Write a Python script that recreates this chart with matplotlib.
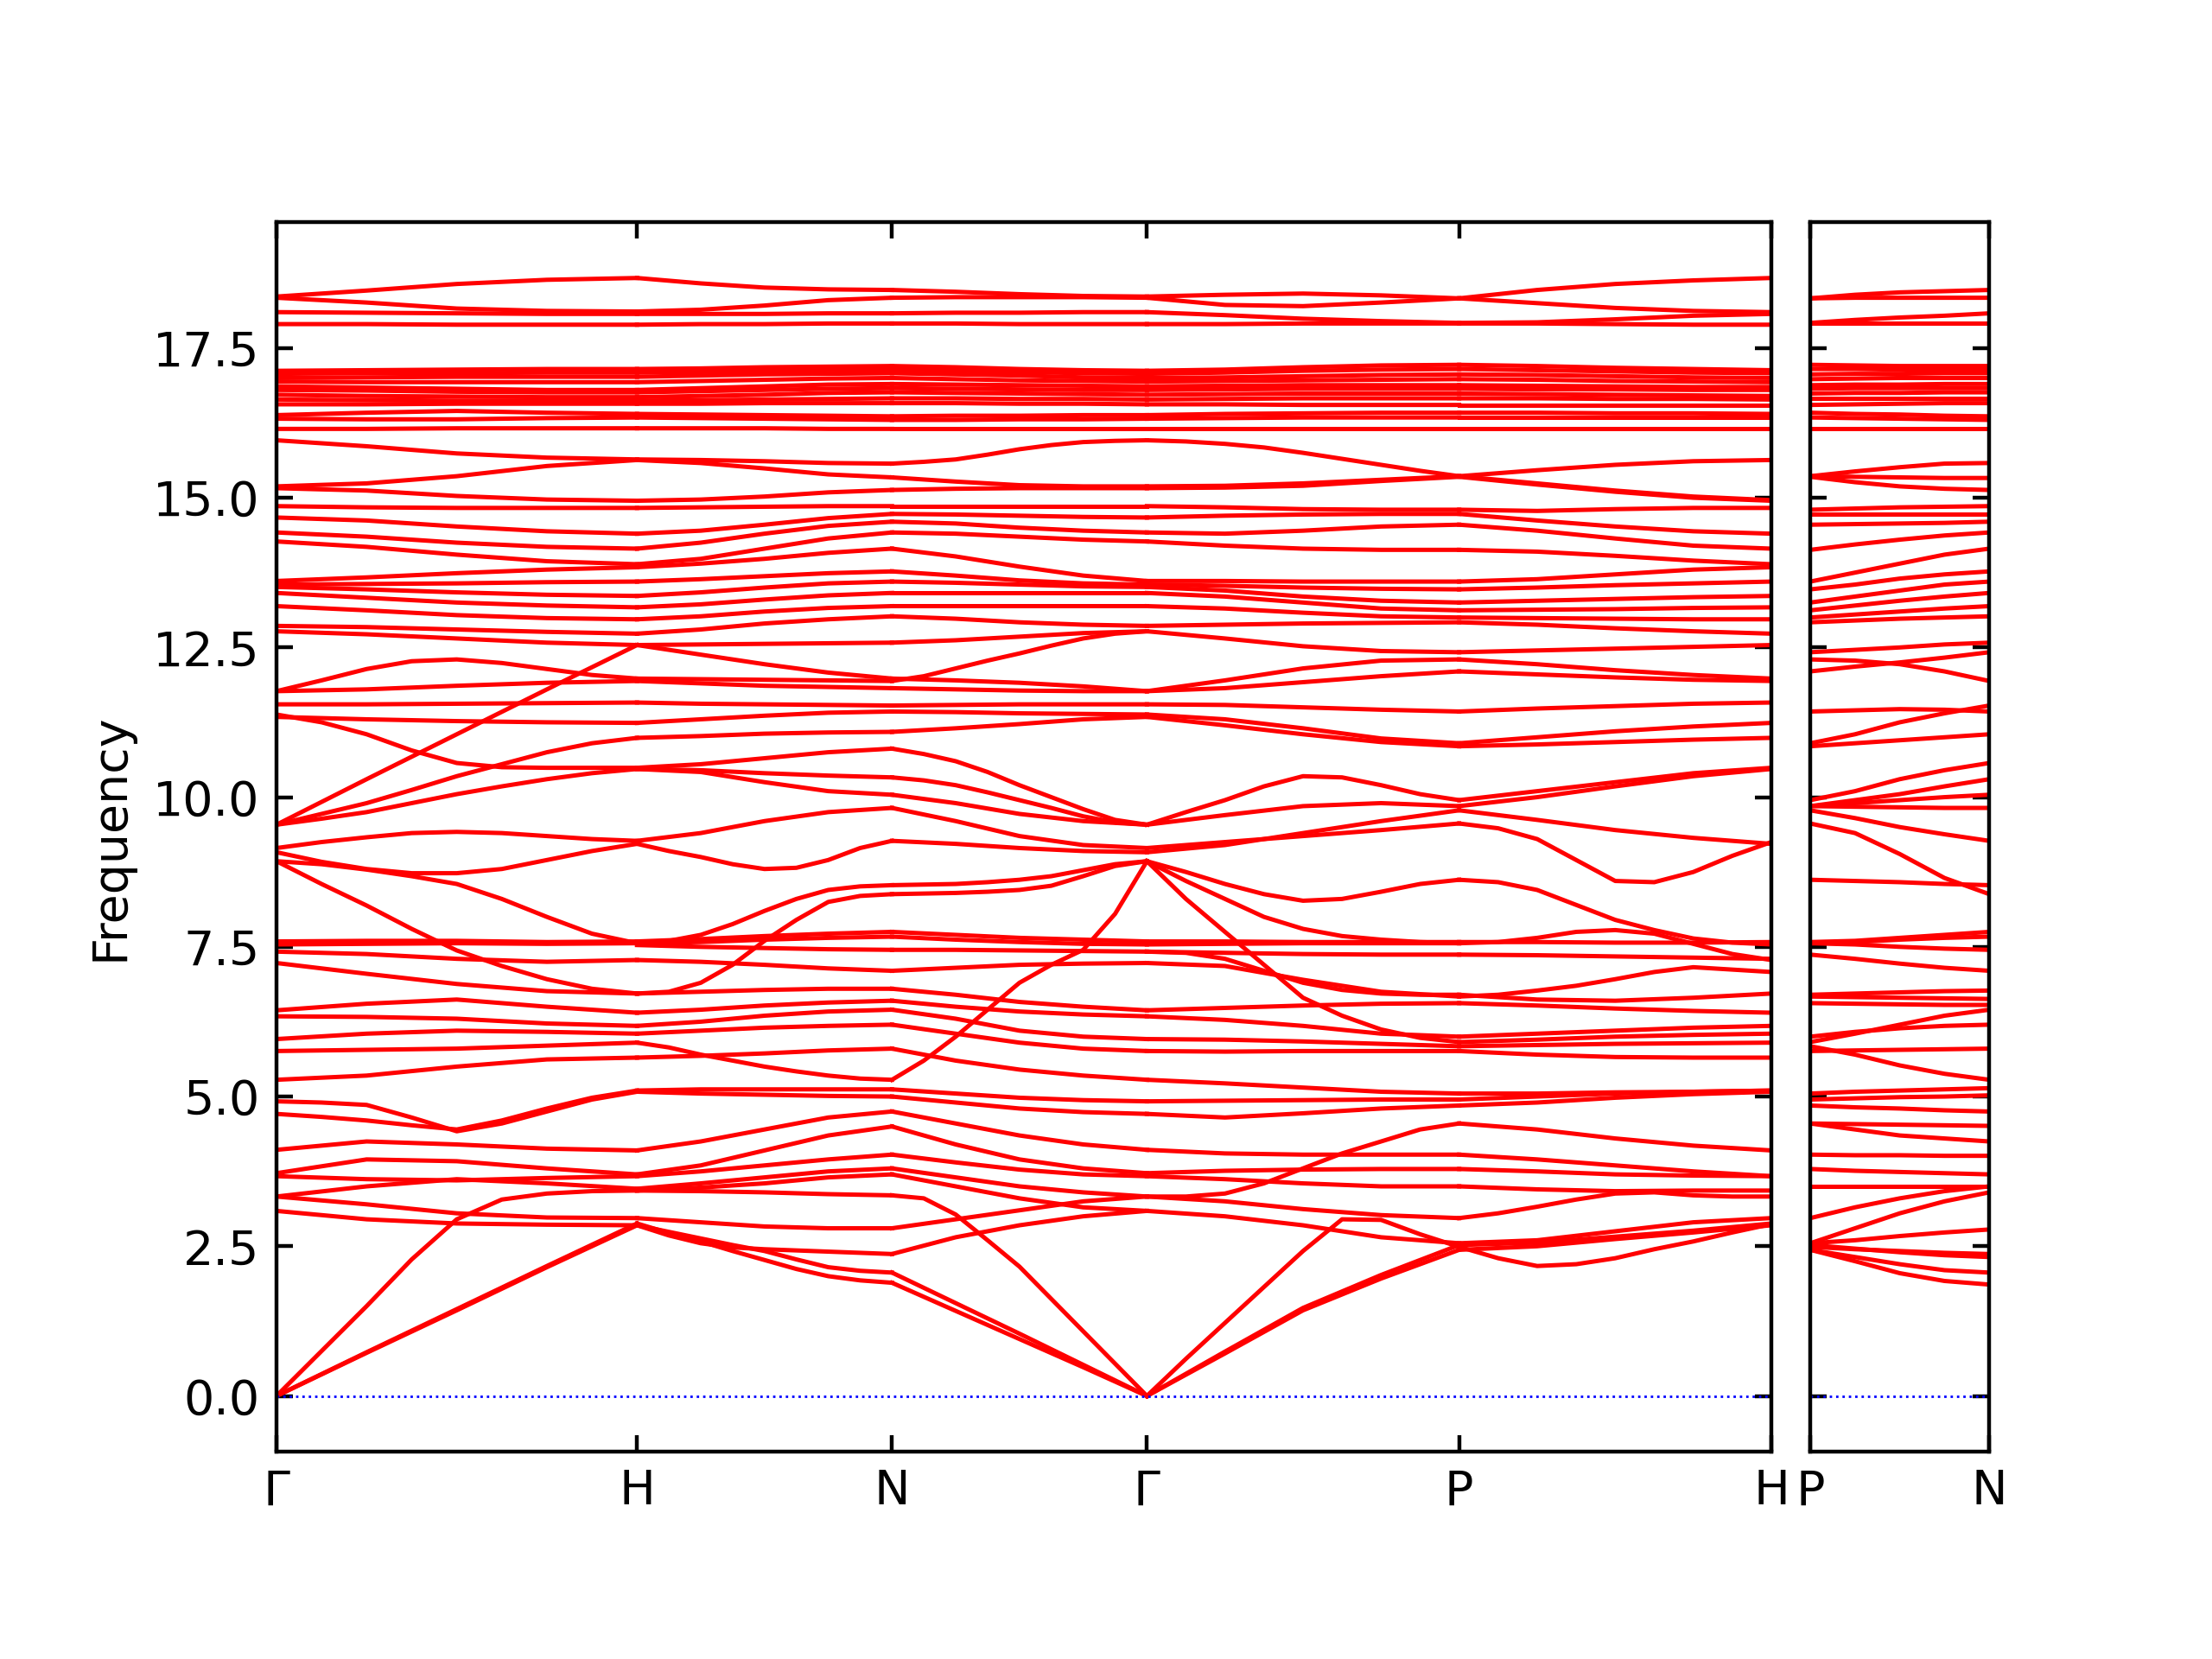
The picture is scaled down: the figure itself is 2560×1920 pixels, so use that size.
import numpy as np
import matplotlib
matplotlib.use("Agg")
import matplotlib.pyplot as plt

# bcc path, segment lengths in units of 2*pi/a
left_labels = ["Γ", "H", "N", "Γ", "P", "H"]
left_lengths = [1.0, 0.7071, 0.7071, 0.8660, 0.8660]
right_labels = ["P", "N"]
right_lengths = [0.5]

# band frequencies read at equally spaced points along each segment
# (5 points for flat bands, 9 points for the strongly curved ones)
gamma_h = [
    [18.36, 18.46, 18.57, 18.64, 18.67], [18.34, 18.26, 18.16, 18.12, 18.11],
    [18.10, 18.09, 18.08, 18.07, 18.07], [17.90, 17.90, 17.89, 17.89, 17.89],
    [17.12, 17.13, 17.14, 17.15, 17.15], [17.07, 17.08, 17.08, 17.09, 17.09],
    [17.00, 17.01, 17.02, 17.02, 17.02], [16.94, 16.93, 16.93, 16.93, 16.93],
    [16.86, 16.84, 16.82, 16.80, 16.80], [16.80, 16.79, 16.77, 16.76, 16.76],
    [16.72, 16.70, 16.69, 16.68, 16.68], [16.64, 16.63, 16.62, 16.62, 16.62],
    [16.56, 16.56, 16.57, 16.57, 16.57], [16.38, 16.42, 16.45, 16.42, 16.40],
    [16.32, 16.31, 16.31, 16.33, 16.34], [16.15, 16.15, 16.16, 16.16, 16.16],
    [15.96, 15.86, 15.74, 15.67, 15.64], [15.19, 15.24, 15.36, 15.53, 15.63],
    [15.16, 15.12, 15.03, 14.97, 14.95], [14.86, 14.84, 14.83, 14.83, 14.83],
    [14.67, 14.62, 14.52, 14.44, 14.40], [14.42, 14.35, 14.25, 14.18, 14.15],
    [14.27, 14.18, 14.05, 13.94, 13.89], [13.61, 13.67, 13.74, 13.80, 13.84],
    [13.55, 13.56, 13.57, 13.59, 13.60], [13.51, 13.47, 13.42, 13.38, 13.36],
    [13.41, 13.33, 13.25, 13.20, 13.17], [13.19, 13.12, 13.04, 12.99, 12.97],
    [12.86, 12.84, 12.80, 12.76, 12.73], [12.77, 12.72, 12.65, 12.58, 12.54],
    [11.77, 11.95, 12.14, 12.27, 12.30, 12.24, 12.14, 12.04, 11.98],
    [11.77, 11.80, 11.86, 11.91, 11.94],
    [11.55, 11.55, 11.56, 11.57, 11.58],
    [11.38, 11.25, 11.05, 10.78, 10.57, 10.50, 10.49, 10.49, 10.49],
    [11.34, 11.30, 11.27, 11.25, 11.24],
    [9.54, 10.30, 11.05, 11.80, 12.54],
    [9.54, 9.72, 9.90, 10.12, 10.35, 10.55, 10.75, 10.90, 10.99],
    [9.54, 9.64, 9.75, 9.90, 10.05, 10.18, 10.30, 10.40, 10.47],
    [9.15, 9.25, 9.33, 9.40, 9.42, 9.40, 9.35, 9.30, 9.27],
    [9.08, 8.92, 8.80, 8.73, 8.73, 8.80, 8.95, 9.10, 9.22],
    [8.93, 8.88, 8.79, 8.68, 8.55, 8.30, 8.00, 7.72, 7.56],
    [8.93, 8.55, 8.19, 7.80, 7.44, 7.18, 6.96, 6.80, 6.72],
    [7.59, 7.60, 7.60, 7.58, 7.59], [7.54, 7.55, 7.56, 7.55, 7.56],
    [7.42, 7.38, 7.30, 7.25, 7.28], [7.23, 7.05, 6.88, 6.76, 6.72],
    [6.44, 6.55, 6.62, 6.50, 6.40], [6.34, 6.33, 6.30, 6.22, 6.18],
    [5.96, 6.05, 6.10, 6.08, 6.05], [5.76, 5.78, 5.80, 5.85, 5.90],
    [5.28, 5.35, 5.50, 5.62, 5.65],
    [4.92, 4.90, 4.86, 4.65, 4.42, 4.55, 4.75, 4.95, 5.08],
    [4.71, 4.66, 4.60, 4.52, 4.45, 4.60, 4.80, 4.98, 5.10],
    [4.11, 4.25, 4.20, 4.13, 4.10],
    [3.72, 3.95, 3.92, 3.80, 3.70], [3.67, 3.62, 3.60, 3.64, 3.67],
    [3.33, 3.50, 3.62, 3.55, 3.46], [3.33, 3.20, 3.05, 2.98, 2.97],
    [3.09, 2.95, 2.88, 2.86, 2.85],
    [0.00, 0.75, 1.50, 2.28, 2.95, 3.28, 3.38, 3.42, 3.43],
    [0.00, 0.72, 1.43, 2.15, 2.85],
    [0.00, 0.73, 1.45, 2.17, 2.88],
]

h_n = [
    [18.67, 18.58, 18.51, 18.48, 18.47], [18.11, 18.14, 18.21, 18.30, 18.34],
    [18.07, 18.07, 18.07, 18.08, 18.08], [17.89, 17.90, 17.90, 17.91, 17.91],
    [17.15, 17.16, 17.18, 17.19, 17.20], [17.09, 17.10, 17.12, 17.13, 17.14],
    [17.02, 17.04, 17.06, 17.07, 17.08], [16.93, 16.95, 16.97, 16.99, 17.00],
    [16.80, 16.83, 16.86, 16.89, 16.90], [16.76, 16.78, 16.80, 16.82, 16.83],
    [16.68, 16.70, 16.72, 16.75, 16.76], [16.62, 16.63, 16.64, 16.65, 16.66],
    [16.57, 16.57, 16.58, 16.58, 16.58], [16.40, 16.39, 16.38, 16.37, 16.36],
    [16.34, 16.33, 16.32, 16.31, 16.30], [16.16, 16.16, 16.16, 16.15, 16.15],
    [15.64, 15.63, 15.61, 15.58, 15.57], [15.63, 15.58, 15.49, 15.39, 15.34],
    [14.95, 14.97, 15.02, 15.09, 15.13], [14.83, 14.84, 14.85, 14.86, 14.86],
    [14.40, 14.45, 14.55, 14.66, 14.73], [14.15, 14.25, 14.40, 14.53, 14.60],
    [13.89, 13.98, 14.15, 14.32, 14.42], [13.84, 13.90, 13.98, 14.08, 14.15],
    [13.60, 13.64, 13.69, 13.74, 13.77], [13.36, 13.42, 13.50, 13.57, 13.60],
    [13.17, 13.22, 13.30, 13.37, 13.41], [12.97, 13.02, 13.10, 13.16, 13.19],
    [12.73, 12.80, 12.90, 12.97, 13.02], [12.54, 12.55, 12.56, 12.57, 12.58],
    [12.54, 12.38, 12.22, 12.08, 11.98], [11.98, 11.97, 11.96, 11.95, 11.94],
    [11.94, 11.90, 11.86, 11.84, 11.82], [11.58, 11.56, 11.55, 11.54, 11.53],
    [11.24, 11.30, 11.36, 11.41, 11.43], [10.99, 11.02, 11.06, 11.08, 11.09],
    [10.49, 10.55, 10.65, 10.75, 10.81], [10.47, 10.45, 10.40, 10.36, 10.33],
    [10.47, 10.42, 10.25, 10.10, 10.04], [9.27, 9.40, 9.60, 9.75, 9.82],
    [9.22, 9.10, 9.00, 8.88, 8.80, 8.82, 8.95, 9.15, 9.27],
    [7.56, 7.60, 7.70, 7.88, 8.10, 8.30, 8.45, 8.51, 8.53],
    [6.72, 6.75, 6.90, 7.20, 7.60, 7.95, 8.25, 8.35, 8.38],
    [7.59, 7.63, 7.68, 7.72, 7.75], [7.56, 7.58, 7.62, 7.65, 7.67],
    [7.53, 7.50, 7.48, 7.46, 7.45], [7.28, 7.25, 7.20, 7.14, 7.10],
    [6.72, 6.75, 6.78, 6.80, 6.80], [6.40, 6.45, 6.52, 6.57, 6.60],
    [6.18, 6.25, 6.35, 6.42, 6.45], [6.05, 6.10, 6.15, 6.18, 6.20],
    [5.90, 5.82, 5.70, 5.60, 5.50, 5.42, 5.35, 5.30, 5.28],
    [5.65, 5.68, 5.72, 5.77, 5.80],
    [5.10, 5.12, 5.12, 5.12, 5.12], [5.08, 5.05, 5.03, 5.01, 5.00],
    [4.10, 4.25, 4.45, 4.65, 4.75], [3.70, 3.85, 4.10, 4.35, 4.50],
    [3.67, 3.75, 3.85, 3.95, 4.03], [3.46, 3.55, 3.65, 3.75, 3.80],
    [3.43, 3.48, 3.55, 3.65, 3.70], [3.43, 3.42, 3.40, 3.37, 3.35],
    [2.97, 2.90, 2.83, 2.80, 2.80],
    [2.85, 2.68, 2.55, 2.48, 2.45, 2.43, 2.41, 2.39, 2.37],
    [2.85, 2.74, 2.63, 2.52, 2.42, 2.28, 2.15, 2.09, 2.06],
    [2.88, 2.72, 2.58, 2.42, 2.27, 2.12, 2.00, 1.93, 1.89],
]

n_gamma = [
    [18.47, 18.44, 18.40, 18.37, 18.36], [18.34, 18.35, 18.35, 18.35, 18.34],
    [18.08, 18.09, 18.09, 18.10, 18.10], [17.91, 17.91, 17.90, 17.90, 17.90],
    [17.20, 17.18, 17.15, 17.13, 17.12], [17.14, 17.12, 17.10, 17.08, 17.07],
    [17.08, 17.06, 17.04, 17.01, 17.00], [17.00, 16.98, 16.96, 16.95, 16.94],
    [16.90, 16.89, 16.88, 16.87, 16.86], [16.83, 16.82, 16.81, 16.80, 16.80],
    [16.76, 16.75, 16.74, 16.73, 16.72], [16.66, 16.66, 16.65, 16.65, 16.64],
    [16.58, 16.58, 16.57, 16.57, 16.56], [16.36, 16.37, 16.37, 16.38, 16.38],
    [16.30, 16.30, 16.31, 16.31, 16.32], [16.15, 16.15, 16.15, 16.15, 16.15],
    [15.57, 15.60, 15.64, 15.72, 15.81, 15.88, 15.93, 15.95, 15.96],
    [15.34, 15.27, 15.21, 15.19, 15.19],
    [15.13, 15.15, 15.16, 15.16, 15.16], [14.86, 14.86, 14.86, 14.86, 14.86],
    [14.73, 14.72, 14.70, 14.68, 14.67], [14.60, 14.57, 14.50, 14.45, 14.42],
    [14.42, 14.40, 14.35, 14.30, 14.27], [14.15, 14.02, 13.85, 13.70, 13.61],
    [13.77, 13.70, 13.62, 13.57, 13.55], [13.60, 13.58, 13.55, 13.52, 13.51],
    [13.41, 13.41, 13.41, 13.41, 13.41], [13.19, 13.19, 13.19, 13.19, 13.19],
    [13.02, 12.98, 12.92, 12.88, 12.86], [12.58, 12.62, 12.68, 12.74, 12.77],
    [11.94, 12.02, 12.15, 12.28, 12.40, 12.53, 12.65, 12.73, 12.77],
    [11.98, 11.95, 11.91, 11.85, 11.77],
    [11.82, 11.80, 11.78, 11.77, 11.77], [11.53, 11.54, 11.55, 11.55, 11.55],
    [11.43, 11.42, 11.40, 11.39, 11.38], [11.09, 11.15, 11.22, 11.30, 11.34],
    [10.81, 10.72, 10.60, 10.42, 10.20, 10.00, 9.80, 9.62, 9.54],
    [10.33, 10.28, 10.20, 10.08, 9.95, 9.82, 9.68, 9.58, 9.54],
    [10.04, 9.90, 9.72, 9.60, 9.54], [9.82, 9.60, 9.35, 9.20, 9.15],
    [9.27, 9.22, 9.15, 9.10, 9.08],
    [8.53, 8.54, 8.55, 8.58, 8.62, 8.68, 8.78, 8.88, 8.93],
    [8.38, 8.39, 8.40, 8.42, 8.45, 8.52, 8.68, 8.85, 8.93],
    [7.75, 7.70, 7.65, 7.62, 7.59], [7.67, 7.62, 7.58, 7.55, 7.54],
    [7.45, 7.45, 7.44, 7.43, 7.42], [7.10, 7.15, 7.20, 7.22, 7.23],
    [6.80, 6.70, 6.58, 6.50, 6.44], [6.60, 6.50, 6.42, 6.37, 6.34],
    [6.45, 6.30, 6.10, 6.00, 5.96], [6.20, 6.05, 5.90, 5.80, 5.76],
    [5.28, 5.60, 6.00, 6.45, 6.90, 7.20, 7.45, 8.05, 8.93],
    [5.80, 5.60, 5.45, 5.35, 5.28],
    [5.12, 5.05, 4.98, 4.94, 4.92], [5.00, 4.90, 4.80, 4.74, 4.71],
    [4.75, 4.55, 4.35, 4.20, 4.11], [4.50, 4.20, 3.95, 3.80, 3.72],
    [4.03, 3.90, 3.78, 3.70, 3.67], [3.80, 3.65, 3.50, 3.40, 3.33],
    [3.70, 3.50, 3.30, 3.15, 3.09],
    [3.35, 3.30, 3.03, 2.60, 2.16, 1.62, 1.08, 0.54, 0.00],
    [2.80, 2.95, 3.10, 3.25, 3.33], [2.37, 2.65, 2.85, 3.00, 3.09],
    [2.06, 1.55, 1.04, 0.52, 0.00], [1.89, 1.42, 0.95, 0.48, 0.00],
]

gamma_p = [
    [18.36, 18.39, 18.41, 18.38, 18.33], [18.34, 18.22, 18.20, 18.26, 18.33],
    [18.10, 18.05, 17.99, 17.95, 17.92], [17.90, 17.90, 17.91, 17.91, 17.91],
    [17.12, 17.14, 17.18, 17.21, 17.22], [17.07, 17.09, 17.12, 17.14, 17.15],
    [17.00, 17.01, 17.03, 17.05, 17.06], [16.94, 16.95, 16.96, 16.97, 16.98],
    [16.86, 16.87, 16.88, 16.88, 16.88], [16.80, 16.81, 16.82, 16.82, 16.82],
    [16.72, 16.73, 16.74, 16.74, 16.74], [16.64, 16.65, 16.66, 16.66, 16.66],
    [16.56, 16.56, 16.55, 16.55, 16.55], [16.38, 16.40, 16.41, 16.42, 16.42],
    [16.32, 16.33, 16.34, 16.34, 16.34], [16.15, 16.15, 16.15, 16.15, 16.15],
    [15.96, 15.94, 15.90, 15.84, 15.75, 15.65, 15.55, 15.45, 15.36],
    [15.19, 15.20, 15.24, 15.30, 15.36],
    [15.16, 15.17, 15.20, 15.28, 15.35], [14.86, 14.84, 14.81, 14.80, 14.80],
    [14.67, 14.70, 14.72, 14.73, 14.73], [14.42, 14.40, 14.45, 14.52, 14.55],
    [14.27, 14.20, 14.15, 14.13, 14.13], [13.61, 13.61, 13.60, 13.60, 13.60],
    [13.55, 13.53, 13.50, 13.48, 13.47], [13.51, 13.45, 13.35, 13.28, 13.25],
    [13.41, 13.35, 13.25, 13.15, 13.12], [13.19, 13.15, 13.08, 13.02, 13.00],
    [12.86, 12.88, 12.90, 12.91, 12.92], [12.77, 12.65, 12.52, 12.44, 12.42],
    [11.77, 11.95, 12.15, 12.28, 12.30], [11.77, 11.82, 11.92, 12.02, 12.10],
    [11.55, 11.54, 11.50, 11.46, 11.43], [11.38, 11.30, 11.15, 10.98, 10.90],
    [11.34, 11.20, 11.05, 10.92, 10.85],
    [9.54, 9.75, 9.95, 10.18, 10.35, 10.33, 10.20, 10.05, 9.95],
    [9.54, 9.70, 9.85, 9.90, 9.85], [9.15, 9.25, 9.35, 9.45, 9.56],
    [9.08, 9.20, 9.40, 9.60, 9.78],
    [8.93, 8.75, 8.55, 8.38, 8.27, 8.30, 8.42, 8.55, 8.62],
    [8.93, 8.30, 7.75, 7.20, 6.65, 6.35, 6.12, 5.98, 5.91],
    [8.93, 8.60, 8.30, 8.00, 7.80, 7.68, 7.62, 7.58, 7.56],
    [7.59, 7.59, 7.58, 7.58, 7.58], [7.54, 7.55, 7.56, 7.56, 7.56],
    [7.42, 7.40, 7.38, 7.37, 7.37],
    [7.42, 7.40, 7.30, 7.10, 6.90, 6.78, 6.72, 6.70, 6.70],
    [7.23, 7.18, 6.95, 6.75, 6.67], [6.44, 6.48, 6.52, 6.55, 6.56],
    [6.34, 6.28, 6.18, 6.05, 6.00], [5.96, 5.95, 5.92, 5.88, 5.84],
    [5.76, 5.75, 5.76, 5.76, 5.76], [5.28, 5.22, 5.15, 5.08, 5.05],
    [4.92, 4.93, 4.94, 4.95, 4.95], [4.71, 4.65, 4.72, 4.80, 4.85],
    [4.11, 4.05, 4.03, 4.03, 4.03], [3.72, 3.76, 3.78, 3.79, 3.79],
    [3.67, 3.62, 3.55, 3.50, 3.50],
    [3.33, 3.33, 3.38, 3.55, 3.80, 4.05, 4.25, 4.45, 4.55],
    [3.33, 3.25, 3.12, 3.02, 2.97], [3.09, 3.00, 2.85, 2.65, 2.55],
    [0.00, 0.62, 1.22, 1.82, 2.42, 2.95, 2.94, 2.70, 2.49],
    [0.00, 0.71, 1.43, 1.96, 2.44],
    [0.00, 0.74, 1.47, 2.02, 2.52],
]

p_h = [
    [18.33, 18.47, 18.57, 18.63, 18.67], [18.33, 18.25, 18.17, 18.12, 18.10],
    [17.92, 17.93, 17.98, 18.04, 18.07], [17.91, 17.91, 17.90, 17.89, 17.89],
    [17.22, 17.20, 17.17, 17.15, 17.13], [17.15, 17.13, 17.11, 17.09, 17.08],
    [17.06, 17.05, 17.03, 17.01, 17.00], [16.98, 16.97, 16.95, 16.94, 16.93],
    [16.88, 16.87, 16.86, 16.85, 16.85], [16.82, 16.81, 16.81, 16.80, 16.80],
    [16.74, 16.73, 16.72, 16.71, 16.70], [16.66, 16.66, 16.65, 16.65, 16.64],
    [16.55, 16.55, 16.55, 16.55, 16.55], [16.42, 16.42, 16.41, 16.41, 16.40],
    [16.34, 16.34, 16.34, 16.34, 16.34], [16.15, 16.15, 16.15, 16.15, 16.15],
    [15.36, 15.24, 15.12, 15.02, 14.96], [15.36, 15.46, 15.55, 15.61, 15.63],
    [15.35, 15.22, 15.10, 15.00, 14.95], [14.80, 14.78, 14.81, 14.83, 14.83],
    [14.73, 14.62, 14.52, 14.44, 14.40], [14.55, 14.45, 14.32, 14.20, 14.15],
    [14.13, 14.10, 14.03, 13.95, 13.89], [13.60, 13.64, 13.72, 13.80, 13.84],
    [13.47, 13.50, 13.54, 13.57, 13.60], [13.25, 13.28, 13.31, 13.34, 13.36],
    [13.12, 13.13, 13.14, 13.16, 13.17], [13.00, 12.99, 12.98, 12.97, 12.97],
    [12.92, 12.88, 12.82, 12.77, 12.73], [12.42, 12.45, 12.48, 12.51, 12.54],
    [12.30, 12.22, 12.12, 12.04, 11.98], [12.10, 12.05, 12.00, 11.96, 11.94],
    [11.43, 11.48, 11.52, 11.56, 11.58], [10.90, 11.00, 11.10, 11.18, 11.24],
    [10.85, 10.88, 10.92, 10.96, 10.99], [9.95, 10.10, 10.25, 10.40, 10.49],
    [9.85, 10.00, 10.18, 10.35, 10.47],
    [9.56, 9.48, 9.30, 8.95, 8.60, 8.58, 8.75, 9.02, 9.25],
    [9.78, 9.62, 9.45, 9.32, 9.22],
    [8.62, 8.58, 8.45, 8.20, 7.95, 7.78, 7.64, 7.57, 7.54],
    [7.58, 7.58, 7.57, 7.57, 7.58],
    [7.56, 7.58, 7.65, 7.75, 7.78, 7.72, 7.55, 7.38, 7.28],
    [7.37, 7.36, 7.34, 7.32, 7.30], [6.70, 6.62, 6.60, 6.65, 6.72],
    [6.67, 6.70, 6.77, 6.85, 6.96, 7.08, 7.16, 7.12, 7.08],
    [6.56, 6.52, 6.47, 6.43, 6.40],
    [6.00, 6.05, 6.10, 6.15, 6.18], [5.91, 5.95, 6.00, 6.03, 6.05],
    [5.84, 5.86, 5.88, 5.89, 5.90], [5.76, 5.70, 5.66, 5.65, 5.65],
    [5.05, 5.05, 5.07, 5.08, 5.10], [4.95, 5.00, 5.05, 5.08, 5.10],
    [4.85, 4.90, 4.98, 5.04, 5.08], [4.55, 4.45, 4.30, 4.18, 4.10],
    [4.03, 3.95, 3.85, 3.75, 3.67], [3.79, 3.75, 3.70, 3.68, 3.67],
    [3.50, 3.45, 3.42, 3.43, 3.43],
    [2.97, 3.05, 3.16, 3.28, 3.38, 3.40, 3.35, 3.33, 3.33],
    [2.55, 2.60, 2.75, 2.90, 2.97],
    [2.49, 2.30, 2.17, 2.20, 2.30, 2.45, 2.58, 2.73, 2.87],
    [2.44, 2.50, 2.62, 2.73, 2.85], [2.52, 2.56, 2.66, 2.76, 2.88],
]

p_n = [
    [18.33, 18.39, 18.43, 18.45, 18.47], [18.33, 18.34, 18.34, 18.34, 18.34],
    [17.92, 17.97, 18.01, 18.04, 18.08], [17.91, 17.91, 17.91, 17.91, 17.91],
    [17.22, 17.21, 17.20, 17.20, 17.20], [17.15, 17.15, 17.14, 17.14, 17.14],
    [17.06, 17.07, 17.07, 17.08, 17.08], [16.98, 16.99, 17.00, 17.00, 17.00],
    [16.88, 16.89, 16.89, 16.90, 16.90], [16.82, 16.83, 16.83, 16.83, 16.83],
    [16.74, 16.75, 16.75, 16.76, 16.76], [16.66, 16.66, 16.66, 16.66, 16.66],
    [16.55, 16.56, 16.57, 16.58, 16.58], [16.42, 16.40, 16.39, 16.37, 16.36],
    [16.34, 16.33, 16.32, 16.31, 16.30], [16.15, 16.15, 16.15, 16.15, 16.15],
    [15.36, 15.44, 15.51, 15.57, 15.58], [15.36, 15.35, 15.34, 15.33, 15.33],
    [15.35, 15.26, 15.19, 15.15, 15.13], [14.80, 14.82, 14.84, 14.85, 14.86],
    [14.73, 14.73, 14.73, 14.73, 14.73], [14.55, 14.56, 14.57, 14.58, 14.60],
    [14.13, 14.22, 14.30, 14.37, 14.42], [13.60, 13.75, 13.90, 14.05, 14.15],
    [13.47, 13.55, 13.65, 13.72, 13.77], [13.25, 13.35, 13.45, 13.55, 13.60],
    [13.12, 13.20, 13.28, 13.35, 13.41], [13.00, 13.05, 13.10, 13.15, 13.19],
    [12.92, 12.95, 12.98, 13.00, 13.02], [12.42, 12.46, 12.50, 12.55, 12.58],
    [12.30, 12.28, 12.22, 12.10, 11.94], [12.10, 12.18, 12.25, 12.33, 12.42],
    [11.43, 11.45, 11.47, 11.46, 11.43], [10.90, 11.05, 11.25, 11.40, 11.53],
    [10.85, 10.90, 10.95, 11.00, 11.05], [9.95, 10.10, 10.30, 10.45, 10.57],
    [9.85, 9.95, 10.05, 10.18, 10.30], [9.85, 9.90, 9.95, 10.00, 10.04],
    [9.85, 9.84, 9.83, 9.82, 9.82], [9.78, 9.65, 9.50, 9.38, 9.27],
    [9.56, 9.40, 9.05, 8.65, 8.38], [8.62, 8.60, 8.58, 8.55, 8.53],
    [7.58, 7.60, 7.65, 7.70, 7.75], [7.56, 7.58, 7.62, 7.65, 7.67],
    [7.56, 7.54, 7.50, 7.47, 7.45], [7.37, 7.30, 7.22, 7.15, 7.10],
    [6.70, 6.72, 6.74, 6.76, 6.77], [6.67, 6.66, 6.65, 6.64, 6.63],
    [6.56, 6.55, 6.54, 6.53, 6.53], [6.00, 6.08, 6.14, 6.18, 6.20],
    [5.91, 6.05, 6.20, 6.35, 6.45], [5.84, 5.70, 5.52, 5.38, 5.28],
    [5.76, 5.77, 5.78, 5.79, 5.80], [5.05, 5.08, 5.10, 5.12, 5.14],
    [4.95, 4.97, 4.99, 5.00, 5.02], [4.85, 4.82, 4.80, 4.77, 4.75],
    [4.55, 4.54, 4.53, 4.52, 4.51], [4.55, 4.45, 4.35, 4.30, 4.25],
    [4.03, 4.02, 4.02, 4.01, 4.01], [3.79, 3.76, 3.74, 3.72, 3.70],
    [3.50, 3.50, 3.50, 3.50, 3.50], [2.97, 3.15, 3.30, 3.42, 3.50],
    [2.55, 2.80, 3.05, 3.25, 3.40], [2.55, 2.60, 2.67, 2.73, 2.78],
    [2.52, 2.46, 2.40, 2.35, 2.32], [2.49, 2.45, 2.42, 2.39, 2.37],
    [2.44, 2.32, 2.20, 2.10, 2.06], [2.44, 2.25, 2.05, 1.92, 1.86],
]

left_segments = [gamma_h, h_n, n_gamma, gamma_p, p_h]
right_segments = [p_n]


def draw_path(ax, segments, lengths, labels):
    ticks = np.concatenate([[0.0], np.cumsum(lengths)])
    for seg, start, length in zip(segments, ticks[:-1], lengths):
        for band in seg:
            xs = np.linspace(start, start + length, len(band))
            ax.plot(xs, band, color="r", linewidth=0.9)
    ax.axhline(0.0, color="b", linestyle=":", linewidth=0.5)
    ax.set_xlim(ticks[0], ticks[-1])
    ax.set_xticks(ticks)
    ax.set_xticklabels(labels)
    ax.tick_params(direction="in", top=True, right=True)


fig = plt.figure(figsize=(6.4, 4.8), dpi=400)
ax1 = fig.add_axes([0.125, 0.125, 0.6758, 0.741])
ax2 = fig.add_axes([0.8184, 0.125, 0.0809, 0.741], sharey=ax1)

draw_path(ax1, left_segments, left_lengths, left_labels)
draw_path(ax2, right_segments, right_lengths, right_labels)

ax1.set_ylim(-0.93, 19.6)
ax1.set_ylabel("Frequency")
ax2.tick_params(labelleft=False)

fig.savefig("out.png", dpi=400)
plt.close(fig)
